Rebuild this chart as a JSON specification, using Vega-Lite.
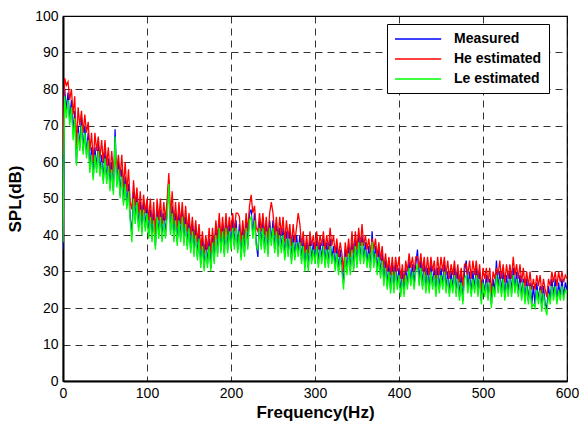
{
  "$schema": "https://vega.github.io/schema/vega-lite/v6.json",
  "width": 504,
  "height": 365,
  "autosize": {"type": "none"},
  "padding": {"left": 63, "top": 16, "right": 12, "bottom": 45},
  "background": "white",
  "data": {
    "values": [
      {"f":0,"m":36,"h":62,"l":38},{"f":2,"m":80,"h":83,"l":78},{"f":4,"m":74,"h":81,"l":72},{"f":6,"m":79,"h":82,"l":77},
      {"f":8,"m":71,"h":77,"l":70},{"f":10,"m":77,"h":80,"l":75},{"f":12,"m":68,"h":73,"l":66},{"f":14,"m":74,"h":78,"l":72},
      {"f":16,"m":60,"h":64,"l":59},{"f":18,"m":70,"h":75,"l":68},{"f":20,"m":64,"h":70,"l":63},{"f":22,"m":72,"h":74,"l":70},
      {"f":24,"m":63,"h":68,"l":62},{"f":26,"m":70,"h":73,"l":68},{"f":28,"m":62,"h":68,"l":61},{"f":30,"m":68,"h":71,"l":66},
      {"f":32,"m":58,"h":63,"l":57},{"f":34,"m":64,"h":68,"l":62},{"f":36,"m":56,"h":60,"l":55},{"f":38,"m":64,"h":68,"l":62},
      {"f":40,"m":58,"h":63,"l":57},{"f":42,"m":65,"h":67,"l":63},{"f":44,"m":57,"h":61,"l":56},{"f":46,"m":62,"h":66,"l":60},
      {"f":48,"m":55,"h":60,"l":54},{"f":50,"m":63,"h":66,"l":61},{"f":52,"m":55,"h":59,"l":54},{"f":54,"m":61,"h":64,"l":59},
      {"f":56,"m":53,"h":57,"l":52},{"f":58,"m":60,"h":63,"l":58},{"f":60,"m":52,"h":57,"l":51},{"f":62,"m":69,"h":63,"l":67},
      {"f":64,"m":54,"h":58,"l":53},{"f":66,"m":60,"h":62,"l":58},{"f":68,"m":51,"h":56,"l":50},{"f":70,"m":58,"h":62,"l":56},
      {"f":72,"m":49,"h":53,"l":48},{"f":74,"m":56,"h":60,"l":54},{"f":76,"m":48,"h":52,"l":47},{"f":78,"m":54,"h":58,"l":52},
      {"f":80,"m":45,"h":49,"l":44},{"f":82,"m":40,"h":47,"l":38},{"f":84,"m":52,"h":55,"l":50},{"f":86,"m":44,"h":48,"l":43},
      {"f":88,"m":51,"h":53,"l":49},{"f":90,"m":42,"h":46,"l":41},{"f":92,"m":49,"h":52,"l":47},{"f":94,"m":41,"h":45,"l":40},
      {"f":96,"m":49,"h":51,"l":47},{"f":98,"m":42,"h":46,"l":41},{"f":100,"m":48,"h":50,"l":46},{"f":102,"m":40,"h":44,"l":39},
      {"f":104,"m":47,"h":50,"l":45},{"f":106,"m":39,"h":43,"l":38},{"f":108,"m":46,"h":49,"l":44},{"f":110,"m":37,"h":40,"l":36},
      {"f":112,"m":47,"h":50,"l":45},{"f":114,"m":40,"h":44,"l":39},{"f":116,"m":47,"h":50,"l":45},{"f":118,"m":39,"h":43,"l":38},
      {"f":120,"m":46,"h":49,"l":44},{"f":122,"m":40,"h":44,"l":39},{"f":124,"m":47,"h":50,"l":45},{"f":126,"m":55,"h":57,"l":54},
      {"f":128,"m":41,"h":45,"l":40},{"f":130,"m":48,"h":52,"l":46},{"f":132,"m":39,"h":43,"l":38},{"f":134,"m":46,"h":49,"l":44},
      {"f":136,"m":38,"h":42,"l":37},{"f":138,"m":46,"h":49,"l":44},{"f":140,"m":39,"h":43,"l":38},{"f":142,"m":47,"h":49,"l":45},
      {"f":144,"m":38,"h":42,"l":37},{"f":146,"m":45,"h":48,"l":43},{"f":148,"m":37,"h":41,"l":36},{"f":150,"m":44,"h":46,"l":42},
      {"f":152,"m":36,"h":40,"l":35},{"f":154,"m":43,"h":45,"l":41},{"f":156,"m":35,"h":39,"l":34},{"f":158,"m":42,"h":44,"l":40},
      {"f":160,"m":34,"h":38,"l":33},{"f":162,"m":41,"h":43,"l":39},{"f":164,"m":32,"h":36,"l":31},{"f":166,"m":39,"h":41,"l":37},
      {"f":168,"m":31,"h":35,"l":30},{"f":170,"m":38,"h":40,"l":36},{"f":172,"m":32,"h":36,"l":31},{"f":174,"m":39,"h":42,"l":37},
      {"f":176,"m":31,"h":35,"l":30},{"f":178,"m":40,"h":42,"l":38},{"f":180,"m":33,"h":37,"l":32},{"f":182,"m":42,"h":44,"l":40},
      {"f":184,"m":35,"h":39,"l":34},{"f":186,"m":44,"h":46,"l":42},{"f":188,"m":36,"h":39,"l":35},{"f":190,"m":43,"h":45,"l":41},
      {"f":192,"m":35,"h":39,"l":34},{"f":194,"m":44,"h":46,"l":42},{"f":196,"m":36,"h":40,"l":35},{"f":198,"m":43,"h":45,"l":41},
      {"f":200,"m":37,"h":41,"l":36},{"f":202,"m":44,"h":46,"l":42},{"f":204,"m":37,"h":41,"l":36},{"f":206,"m":44,"h":46,"l":42},
      {"f":208,"m":36,"h":46,"l":35},{"f":210,"m":43,"h":45,"l":41},{"f":212,"m":34,"h":38,"l":33},{"f":214,"m":42,"h":44,"l":40},
      {"f":216,"m":35,"h":39,"l":34},{"f":218,"m":44,"h":46,"l":42},{"f":220,"m":37,"h":41,"l":36},{"f":222,"m":46,"h":48,"l":44},
      {"f":224,"m":47,"h":51,"l":45},{"f":226,"m":40,"h":46,"l":39},{"f":228,"m":46,"h":48,"l":44},{"f":230,"m":38,"h":42,"l":37},
      {"f":232,"m":34,"h":41,"l":36},{"f":234,"m":44,"h":46,"l":42},{"f":236,"m":37,"h":41,"l":36},{"f":238,"m":44,"h":46,"l":42},
      {"f":240,"m":36,"h":40,"l":35},{"f":242,"m":43,"h":45,"l":41},{"f":244,"m":35,"h":39,"l":34},{"f":246,"m":44,"h":46,"l":42},
      {"f":248,"m":38,"h":49,"l":37},{"f":250,"m":44,"h":46,"l":42},{"f":252,"m":36,"h":40,"l":35},{"f":254,"m":43,"h":45,"l":41},
      {"f":256,"m":35,"h":39,"l":34},{"f":258,"m":42,"h":45,"l":40},{"f":260,"m":36,"h":40,"l":35},{"f":262,"m":42,"h":45,"l":40},
      {"f":264,"m":34,"h":38,"l":33},{"f":266,"m":41,"h":44,"l":39},{"f":268,"m":35,"h":39,"l":34},{"f":270,"m":41,"h":43,"l":39},
      {"f":272,"m":33,"h":37,"l":32},{"f":274,"m":40,"h":43,"l":38},{"f":276,"m":34,"h":38,"l":33},{"f":278,"m":40,"h":42,"l":38},
      {"f":280,"m":35,"h":46,"l":34},{"f":282,"m":40,"h":43,"l":38},{"f":284,"m":33,"h":37,"l":32},{"f":286,"m":39,"h":41,"l":37},
      {"f":288,"m":31,"h":35,"l":30},{"f":290,"m":38,"h":40,"l":36},{"f":292,"m":31,"h":35,"l":30},{"f":294,"m":39,"h":41,"l":37},
      {"f":296,"m":33,"h":37,"l":32},{"f":298,"m":38,"h":40,"l":36},{"f":300,"m":33,"h":36,"l":32},{"f":302,"m":39,"h":41,"l":37},
      {"f":304,"m":32,"h":36,"l":31},{"f":306,"m":38,"h":40,"l":36},{"f":308,"m":33,"h":37,"l":32},{"f":310,"m":39,"h":41,"l":37},
      {"f":312,"m":32,"h":36,"l":31},{"f":314,"m":38,"h":40,"l":36},{"f":316,"m":32,"h":36,"l":31},{"f":318,"m":39,"h":42,"l":37},
      {"f":320,"m":33,"h":37,"l":32},{"f":322,"m":37,"h":40,"l":35},{"f":324,"m":31,"h":35,"l":30},{"f":326,"m":37,"h":39,"l":35},
      {"f":328,"m":30,"h":34,"l":29},{"f":330,"m":36,"h":38,"l":34},{"f":332,"m":31,"h":35,"l":30},{"f":334,"m":27,"h":30,"l":25},
      {"f":336,"m":36,"h":38,"l":34},{"f":338,"m":30,"h":34,"l":29},{"f":340,"m":37,"h":39,"l":35},{"f":342,"m":30,"h":34,"l":29},
      {"f":344,"m":38,"h":41,"l":36},{"f":346,"m":31,"h":35,"l":30},{"f":348,"m":39,"h":41,"l":37},{"f":350,"m":32,"h":36,"l":31},
      {"f":352,"m":40,"h":42,"l":38},{"f":354,"m":33,"h":37,"l":32},{"f":356,"m":40,"h":43,"l":38},{"f":358,"m":33,"h":37,"l":32},
      {"f":360,"m":38,"h":40,"l":36},{"f":362,"m":32,"h":36,"l":31},{"f":364,"m":37,"h":39,"l":35},{"f":366,"m":31,"h":35,"l":30},
      {"f":368,"m":41,"h":39,"l":38},{"f":370,"m":32,"h":36,"l":31},{"f":372,"m":37,"h":39,"l":35},{"f":374,"m":30,"h":34,"l":29},
      {"f":376,"m":36,"h":38,"l":34},{"f":378,"m":29,"h":33,"l":28},{"f":380,"m":35,"h":37,"l":33},{"f":382,"m":27,"h":31,"l":26},
      {"f":384,"m":33,"h":35,"l":31},{"f":386,"m":26,"h":30,"l":25},{"f":388,"m":32,"h":34,"l":30},{"f":390,"m":25,"h":29,"l":24},
      {"f":392,"m":32,"h":34,"l":30},{"f":394,"m":25,"h":29,"l":24},{"f":396,"m":32,"h":34,"l":30},{"f":398,"m":26,"h":30,"l":25},
      {"f":400,"m":31,"h":34,"l":29},{"f":402,"m":24,"h":28,"l":23},{"f":404,"m":30,"h":32,"l":28},{"f":406,"m":24,"h":27,"l":23},
      {"f":408,"m":31,"h":33,"l":29},{"f":410,"m":26,"h":30,"l":25},{"f":412,"m":33,"h":35,"l":31},{"f":414,"m":27,"h":31,"l":26},
      {"f":416,"m":32,"h":34,"l":30},{"f":418,"m":26,"h":30,"l":25},{"f":420,"m":32,"h":34,"l":30},{"f":422,"m":36,"h":34,"l":32},
      {"f":424,"m":27,"h":31,"l":26},{"f":426,"m":33,"h":35,"l":31},{"f":428,"m":26,"h":30,"l":25},{"f":430,"m":32,"h":34,"l":30},
      {"f":432,"m":25,"h":29,"l":24},{"f":434,"m":31,"h":34,"l":29},{"f":436,"m":25,"h":29,"l":24},{"f":438,"m":32,"h":34,"l":30},
      {"f":440,"m":26,"h":30,"l":25},{"f":442,"m":31,"h":33,"l":29},{"f":444,"m":24,"h":28,"l":23},{"f":446,"m":31,"h":34,"l":29},
      {"f":448,"m":25,"h":29,"l":24},{"f":450,"m":31,"h":34,"l":29},{"f":452,"m":26,"h":30,"l":25},{"f":454,"m":32,"h":34,"l":30},
      {"f":456,"m":25,"h":29,"l":24},{"f":458,"m":30,"h":33,"l":28},{"f":460,"m":24,"h":28,"l":23},{"f":462,"m":30,"h":32,"l":28},
      {"f":464,"m":25,"h":29,"l":24},{"f":466,"m":31,"h":33,"l":29},{"f":468,"m":24,"h":28,"l":23},{"f":470,"m":30,"h":32,"l":28},
      {"f":472,"m":23,"h":27,"l":22},{"f":474,"m":29,"h":31,"l":27},{"f":476,"m":22,"h":26,"l":21},{"f":478,"m":30,"h":32,"l":28},
      {"f":480,"m":33,"h":32,"l":29},{"f":482,"m":25,"h":29,"l":24},{"f":484,"m":30,"h":33,"l":28},{"f":486,"m":24,"h":28,"l":23},
      {"f":488,"m":30,"h":33,"l":28},{"f":490,"m":25,"h":29,"l":24},{"f":492,"m":31,"h":33,"l":29},{"f":494,"m":24,"h":28,"l":23},
      {"f":496,"m":30,"h":32,"l":28},{"f":498,"m":22,"h":25,"l":21},{"f":500,"m":28,"h":31,"l":27},{"f":502,"m":24,"h":28,"l":23},
      {"f":504,"m":29,"h":31,"l":27},{"f":506,"m":23,"h":27,"l":22},{"f":508,"m":28,"h":31,"l":27},{"f":510,"m":21,"h":24,"l":20},
      {"f":512,"m":28,"h":30,"l":26},{"f":514,"m":24,"h":28,"l":23},{"f":516,"m":33,"h":31,"l":29},{"f":518,"m":25,"h":29,"l":24},
      {"f":520,"m":30,"h":33,"l":28},{"f":522,"m":24,"h":28,"l":23},{"f":524,"m":30,"h":32,"l":28},{"f":526,"m":23,"h":27,"l":22},
      {"f":528,"m":29,"h":32,"l":27},{"f":530,"m":24,"h":28,"l":23},{"f":532,"m":30,"h":32,"l":28},{"f":534,"m":24,"h":28,"l":23},
      {"f":536,"m":31,"h":34,"l":29},{"f":538,"m":25,"h":29,"l":24},{"f":540,"m":30,"h":32,"l":28},{"f":542,"m":24,"h":28,"l":23},
      {"f":544,"m":29,"h":32,"l":27},{"f":546,"m":23,"h":27,"l":22},{"f":548,"m":28,"h":31,"l":27},{"f":550,"m":22,"h":26,"l":21},
      {"f":552,"m":28,"h":30,"l":26},{"f":554,"m":22,"h":26,"l":21},{"f":556,"m":27,"h":30,"l":26},{"f":558,"m":21,"h":25,"l":20},
      {"f":560,"m":26,"h":28,"l":21},{"f":562,"m":21,"h":25,"l":20},{"f":564,"m":27,"h":29,"l":25},{"f":566,"m":22,"h":26,"l":21},
      {"f":568,"m":26,"h":29,"l":25},{"f":570,"m":20,"h":24,"l":19},{"f":572,"m":26,"h":28,"l":24},{"f":574,"m":21,"h":25,"l":20},
      {"f":576,"m":20,"h":23,"l":18},{"f":578,"m":26,"h":28,"l":24},{"f":580,"m":22,"h":26,"l":21},{"f":582,"m":28,"h":30,"l":26},
      {"f":584,"m":23,"h":27,"l":22},{"f":586,"m":28,"h":30,"l":26},{"f":588,"m":22,"h":26,"l":21},{"f":590,"m":27,"h":30,"l":25},
      {"f":592,"m":23,"h":27,"l":22},{"f":594,"m":28,"h":30,"l":26},{"f":596,"m":23,"h":27,"l":22},{"f":598,"m":27,"h":29,"l":25},
      {"f":600,"m":25,"h":28,"l":24}
    ]
  },
  "transform": [
    {"fold": ["m", "h", "l"], "as": ["series", "v"]}
  ],
  "mark": {"type": "line", "strokeWidth": 1.3, "clip": true},
  "encoding": {
    "x": {
      "field": "f",
      "type": "quantitative",
      "title": "Frequency(Hz)",
      "scale": {"domain": [0, 600], "nice": false},
      "axis": {"values": [0, 100, 200, 300, 400, 500, 600]}
    },
    "y": {
      "field": "v",
      "type": "quantitative",
      "title": "SPL(dB)",
      "scale": {"domain": [0, 100], "nice": false},
      "axis": {"values": [0, 10, 20, 30, 40, 50, 60, 70, 80, 90, 100]}
    },
    "stroke": {
      "field": "series",
      "type": "nominal",
      "scale": {"domain": ["m", "h", "l"], "range": ["#0000ff", "#ff0000", "#00ff00"]},
      "legend": {
        "title": null,
        "orient": "none",
        "legendX": 324,
        "legendY": 8,
        "strokeColor": "#000",
        "fillColor": "#fff",
        "symbolType": "M-1,0H5.6",
        "symbolSize": 196,
        "symbolStrokeWidth": 1.5,
        "labelExpr": "datum.value == 'm' ? 'Measured' : datum.value == 'h' ? 'He estimated' : 'Le estimated'"
      }
    }
  },
  "config": {
    "font": "Liberation Sans",
    "view": {"stroke": "#000", "strokeWidth": 1.2},
    "axis": {
      "labelFont": "Liberation Sans",
      "labelFontSize": 14,
      "labelColor": "#000",
      "labelPadding": 5,
      "ticks": false,
      "domainColor": "#000",
      "domainWidth": 2,
      "grid": true,
      "gridColor": "#000",
      "gridDash": [7, 5],
      "gridWidth": 1,
      "gridOpacity": 0.8,
      "titleFont": "Liberation Sans",
      "titleFontSize": 17,
      "titleFontWeight": "bold",
      "titleColor": "#000"
    },
    "axisX": {"titlePadding": 4, "labelFlush": false},
    "axisY": {"titlePadding": 10},
    "legend": {
      "padding": 7,
      "labelFont": "Liberation Sans",
      "labelFontSize": 14,
      "labelFontWeight": "bold",
      "labelColor": "#000",
      "labelOffset": 44,
      "rowPadding": 5
    }
  }
}
